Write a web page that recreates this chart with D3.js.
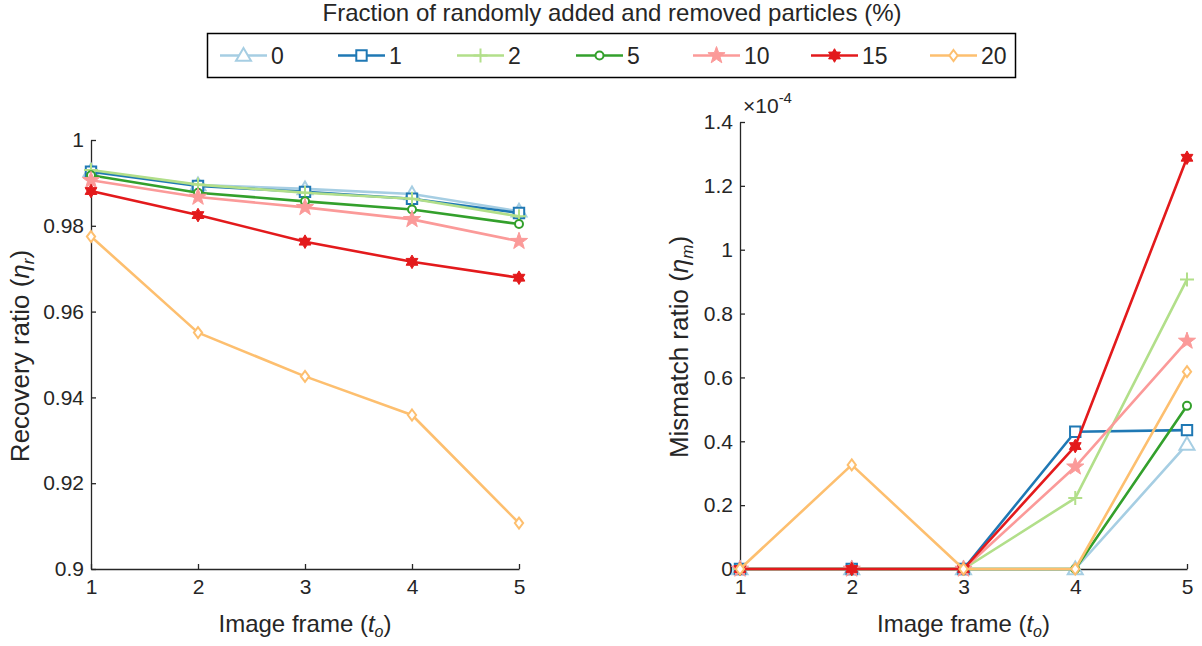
<!DOCTYPE html>
<html>
<head>
<meta charset="utf-8">
<script src="https://cdn.jsdelivr.net/npm/d3@7"></script>
<style>
  body { margin: 0; background: #fff; }
  svg { font-family: "Liberation Sans", Arial, Helvetica, sans-serif; }
  .axis path, .axis line { stroke: #262626; stroke-width: 1.3; }
  .axis text { fill: #262626; font-size: 21px; }
</style>
</head>
<body>
<div id="chart-div"></div>
<script>
// data
var frames = [1, 2, 3, 4, 5];
var seriesNames = ["0", "1", "2", "5", "10", "15", "20"];
var seriesColors = ["#a6cee3", "#1f78b4", "#b2df8a", "#33a02c", "#fb9a99", "#e31a1c", "#fdbf6f"];
var seriesMarkers = ["triangle", "square", "plus", "circle", "star", "hexagram", "diamond"];

// recovery ratio (left)
var recovery0  = [0.9928, 0.9895, 0.9886, 0.9874, 0.9834];
var recovery1  = [0.9926, 0.9893, 0.9879, 0.9863, 0.9830];
var recovery2  = [0.9930, 0.9896, 0.9877, 0.9863, 0.9822];
var recovery5  = [0.9918, 0.9877, 0.9857, 0.9838, 0.9804];
var recovery10 = [0.9906, 0.9867, 0.9843, 0.9815, 0.9764];
var recovery15 = [0.9881, 0.9825, 0.9763, 0.9716, 0.9679];
var recovery20 = [0.9775, 0.9551, 0.9449, 0.9359, 0.9107];

// mismatch ratio (right), in units of 1e-4
var mismatch0  = [0, 0, 0, 0, 0.39];
var mismatch1  = [0, 0, 0, 0.43, 0.435];
var mismatch2  = [0, 0, 0, 0.222, 0.907];
var mismatch5  = [0, 0, 0, 0, 0.511];
var mismatch10 = [0, 0, 0, 0.32, 0.714];
var mismatch15 = [0, 0, 0, 0.385, 1.288];
var mismatch20 = [0, 0.326, 0, 0, 0.618];

var leftYTicks = [0.9, 0.92, 0.94, 0.96, 0.98, 1];
var leftYTickLabels = ["0.9", "0.92", "0.94", "0.96", "0.98", "1"];
var rightYTicks = [0, 0.2, 0.4, 0.6, 0.8, 1, 1.2, 1.4];
var rightYTickLabels = ["0", "0.2", "0.4", "0.6", "0.8", "1", "1.2", "1.4"];
var xTicks = [1, 2, 3, 4, 5];

var legendTitle = "Fraction of randomly added and removed particles (%)";

var recoverySeries = [recovery0, recovery1, recovery2, recovery5, recovery10, recovery15, recovery20];
var mismatchSeries = [mismatch0, mismatch1, mismatch2, mismatch5, mismatch10, mismatch15, mismatch20];

var width = 1202,
    height = 646;

var svg = d3.select("#chart-div")
            .append("svg")
            .attr("width", width)
            .attr("height", height);

// marker shapes, size = radius in px
function starPoints(n, inner) {
  return {
    draw: function(ctx, r) {
      for (var k = 0; k < n * 2; k++) {
        var a = -Math.PI / 2 + k * Math.PI / n;
        var rr = (k % 2 === 0) ? r : r * inner;
        if (k === 0) ctx.moveTo(rr * Math.cos(a), rr * Math.sin(a));
        else ctx.lineTo(rr * Math.cos(a), rr * Math.sin(a));
      }
      ctx.closePath();
    }
  };
}
var shapes = {
  triangle: { draw: function(ctx, r) { ctx.moveTo(0, -r); ctx.lineTo(r, r * 0.7); ctx.lineTo(-r, r * 0.7); ctx.closePath(); } },
  square:   { draw: function(ctx, r) { ctx.rect(-r, -r, 2 * r, 2 * r); } },
  plus:     { draw: function(ctx, r) { ctx.moveTo(-r, 0); ctx.lineTo(r, 0); ctx.moveTo(0, -r); ctx.lineTo(0, r); } },
  circle:   { draw: function(ctx, r) { ctx.moveTo(r, 0); ctx.arc(0, 0, r, 0, 2 * Math.PI); } },
  diamond:  { draw: function(ctx, r) { ctx.moveTo(0, -r); ctx.lineTo(r * 0.75, 0); ctx.lineTo(0, r); ctx.lineTo(-r * 0.75, 0); ctx.closePath(); } },
  star: starPoints(5, 0.4),
  hexagram: starPoints(6, 0.58)
};
var markerSize = { triangle: 7.5, square: 5.2, plus: 7, circle: 4, diamond: 5.5, star: 9, hexagram: 6.8 };
var markerFill = { triangle: "#fff", square: "#fff", plus: "none", circle: "#fff", diamond: "#fff", star: null, hexagram: null };

function drawMarker(g, type, color) {
  g.append("path")
    .attr("d", d3.symbol().type(shapes[type]).size(markerSize[type])())
    .attr("fill", markerFill[type] === null ? color : markerFill[type])
    .attr("stroke", color)
    .attr("stroke-width", type === "star" || type === "hexagram" ? 1 : 2)
    .attr("stroke-linejoin", "miter");
}

function drawPanel(xRange, yScale, yTicks, yTickLabels, series, yLabel, ySub, yLabelX, yLabelY) {
  var x = d3.scaleLinear().domain([1, 5]).range(xRange);
  var y0 = yScale.range()[0];

  svg.append("g")
    .attr("class", "axis")
    .attr("transform", "translate(0," + y0 + ")")
    .call(d3.axisBottom(x).tickValues(xTicks).tickFormat(d3.format("d"))
      .tickSizeInner(-5).tickSizeOuter(0).tickPadding(10));

  svg.append("g")
    .attr("class", "axis")
    .attr("transform", "translate(" + xRange[0] + ",0)")
    .call(d3.axisLeft(yScale).tickValues(yTicks)
      .tickFormat(function(d, i) { return yTickLabels[i]; })
      .tickSizeInner(-5).tickSizeOuter(0).tickPadding(7));

  svg.selectAll(".axis").attr("font-family", null);

  var line = d3.line()
    .x(function(d, i) { return x(frames[i]); })
    .y(function(d) { return yScale(d); });

  series.forEach(function(vals, s) {
    var g = svg.append("g");
    g.append("path")
      .attr("d", line(vals))
      .attr("fill", "none")
      .attr("stroke", seriesColors[s])
      .attr("stroke-width", 2.6)
      .attr("stroke-linejoin", "round");
    vals.forEach(function(v, i) {
      var m = g.append("g").attr("transform", "translate(" + x(frames[i]) + "," + yScale(v) + ")");
      drawMarker(m, seriesMarkers[s], seriesColors[s]);
    });
  });

  // x label
  var xl = svg.append("text")
    .attr("x", (xRange[0] + xRange[1]) / 2)
    .attr("y", 632)
    .attr("text-anchor", "middle")
    .attr("font-size", 24)
    .attr("fill", "#262626");
  xl.append("tspan").text("Image frame (");
  xl.append("tspan").attr("font-style", "italic").text("t");
  xl.append("tspan").attr("font-style", "italic").attr("font-size", 16).attr("dy", 5).text("o");
  xl.append("tspan").attr("dy", -5).text(")");

  // y label
  var yl = svg.append("text")
    .attr("transform", "translate(" + yLabelX + "," + yLabelY + ") rotate(-90)")
    .attr("text-anchor", "middle")
    .attr("font-size", 26)
    .attr("fill", "#262626");
  yl.append("tspan").text(yLabel + " (");
  yl.append("tspan").attr("font-style", "italic").text("\u03b7");
  yl.append("tspan").attr("font-style", "italic").attr("font-size", 17).attr("dy", 5).text(ySub);
  yl.append("tspan").attr("dy", -5).text(")");
}

var yLeft = d3.scaleLinear().domain([0.9, 1]).range([569, 140]);
var yRight = d3.scaleLinear().domain([0, 1.4]).range([569, 122]);

drawPanel([91, 519], yLeft, leftYTicks, leftYTickLabels, recoverySeries, "Recovery ratio", "r", 29, 356);
drawPanel([740, 1187], yRight, rightYTicks, rightYTickLabels, mismatchSeries, "Mismatch ratio", "m", 688, 347);

// exponent
var ex = svg.append("text")
  .attr("x", 743)
  .attr("y", 113)
  .attr("font-size", 21)
  .attr("fill", "#262626");
ex.append("tspan").text("\u00d710");
ex.append("tspan").attr("font-size", 15).attr("dy", -10).text("-4");

// legend
svg.append("text")
  .attr("x", 612)
  .attr("y", 21)
  .attr("text-anchor", "middle")
  .attr("font-size", 24)
  .attr("fill", "#262626")
  .text(legendTitle);

svg.append("rect")
  .attr("x", 207.5)
  .attr("y", 33.5)
  .attr("width", 808)
  .attr("height", 44)
  .attr("fill", "#fff")
  .attr("stroke", "#000")
  .attr("stroke-width", 1.5);

var legendStart = [220, 338, 457, 576, 693, 811, 930];
seriesNames.forEach(function(name, s) {
  var g = svg.append("g").attr("transform", "translate(" + legendStart[s] + ",55.5)");
  g.append("line")
    .attr("x1", 0).attr("x2", 47)
    .attr("stroke", seriesColors[s])
    .attr("stroke-width", 2.6);
  var m = g.append("g").attr("transform", "translate(23.5,0)");
  drawMarker(m, seriesMarkers[s], seriesColors[s]);
  g.append("text")
    .attr("x", 51)
    .attr("y", 8.5)
    .attr("font-size", 23)
    .attr("fill", "#262626")
    .text(name);
});
</script>
</body>
</html>
